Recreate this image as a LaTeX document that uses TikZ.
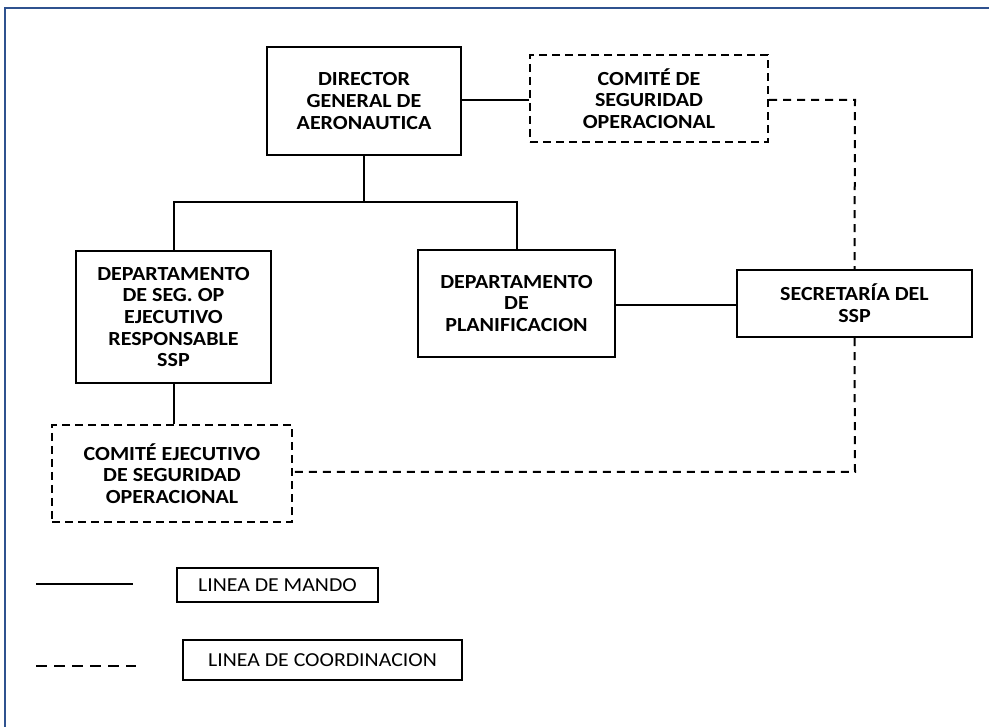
\documentclass[tikz,border=0pt]{standalone}
\usepackage{fontspec}
\setmainfont{Carlito}[FakeStretch=1.1]
\begin{document}
\begin{tikzpicture}[x=1pt,y=-1pt,
  box/.style={draw=black,line width=2.2pt,align=center,inner sep=0pt,
    font=\fontsize{20}{21.7}\selectfont\bfseries},
  dbox/.style={box,dash pattern=on 8pt off 5pt},
  lbox/.style={draw=black,line width=2.2pt,inner sep=0pt,
    font=\fontsize{19.8}{22}\selectfont},
  mando/.style={draw=black,line width=2pt},
  coord/.style={draw=black,line width=2pt,dash pattern=on 8pt off 6pt},
  lcoord/.style={draw=black,line width=2pt,dash pattern=on 11pt off 7pt}]
\useasboundingbox (0,0) rectangle (989,727);
\draw[line width=2.2pt,color={rgb,255:red,47;green,82;blue,143}] (989,8) -- (5,8) -- (5,727);
% boxes
\node[box,minimum width=194pt,minimum height=108pt] (dir) at (364,101)
  {DIRECTOR\\GENERAL DE\\AERONAUTICA};
\node[dbox,minimum width=238pt,minimum height=87pt] (com) at (649,98.5)
  {COMITÉ DE\\SEGURIDAD\\OPERACIONAL};
\node[box,minimum width=195pt,minimum height=132pt] (dep) at (173.5,317)
  {DEPARTAMENTO\\DE SEG. OP\\EJECUTIVO\\RESPONSABLE\\SSP};
\node[box,minimum width=197pt,minimum height=107pt] (plan) at (516.5,303.5)
  {DEPARTAMENTO\\DE\\PLANIFICACION};
\node[box,minimum width=235pt,minimum height=67pt] (sec) at (854.5,303.5)
  {SECRETARÍA DEL\\SSP};
\node[dbox,minimum width=240pt,minimum height=97pt] (cej) at (172,473.5)
  {COMITÉ EJECUTIVO\\DE SEGURIDAD\\OPERACIONAL};
% legend
\node[lbox,minimum width=201pt,minimum height=34pt] (lm) at (277.5,585) {LINEA DE MANDO};
\node[lbox,minimum width=279pt,minimum height=40pt] (lc) at (322.5,660) {LINEA DE COORDINACION};
\coordinate (lm1) at (36,584);
\coordinate (lm2) at (133,584);
\coordinate (lc1) at (36,666);
\coordinate (lc2) at (136,666);
\draw[mando] (lm1) -- (lm2);
\draw[lcoord] (lc1) -- (lc2);
% command lines
\coordinate (j) at (364,202);
\draw[mando] (dir.south) -- (j);
\draw[mando] (j) -| (dep.north);
\draw[mando] (j) -| (plan.north);
\draw[mando] (dir.east |- 0,100) -- (com.west |- 0,100);
\draw[mando] (plan.east |- 0,305) -- (sec.west |- 0,305);
\draw[mando] (dep.south) -- (cej.north -| dep.south);
% coordination lines
\coordinate (c1) at (855,100);
\coordinate (c2) at (855,472);
\draw[coord] (com.east |- c1) -- (c1) -- (sec.north);
\draw[coord] (sec.south) -- (c2) -- (cej.east |- c2);
\end{tikzpicture}
\end{document}
